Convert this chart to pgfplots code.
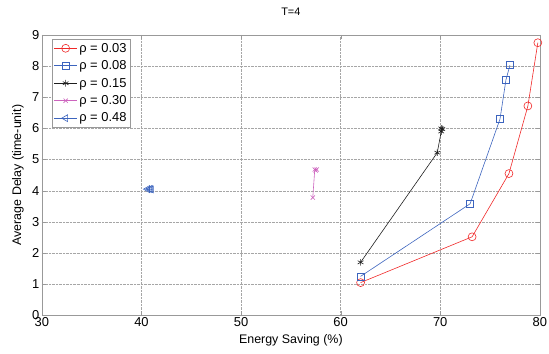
\documentclass[border=0pt]{standalone}
\usepackage{pgfplots}
\pgfplotsset{compat=1.18}
\usepackage{fontspec}
\setmainfont{Liberation Sans}
\definecolor{cred}{RGB}{240,40,40}
\definecolor{cblue}{RGB}{60,100,190}
\definecolor{cmag}{RGB}{205,100,190}
\definecolor{cblk}{RGB}{30,30,30}
\begin{document}
\begin{tikzpicture}
\begin{axis}[
  scale only axis,
  width=499bp, height=281bp,
  xmin=30, xmax=80, ymin=0, ymax=9,
  xtick={30,40,...,80}, ytick={0,1,...,9},
  /pgf/number format/assume math mode=true,
  tick label style={font=\fontsize{13}{14}\selectfont},
  xticklabel style={inner sep=2pt},
  yticklabel style={inner sep=2.5pt},
  every axis x label/.style={at={(axis description cs:0.5,0)}, anchor=center, yshift=-25bp, inner sep=0pt, font=\fontsize{12.5}{13}\selectfont},
  every axis y label/.style={at={(axis description cs:0,0.5)}, rotate=90, anchor=center, yshift=24bp, inner sep=0pt, font=\fontsize{12.5}{13}\selectfont},
  every axis title/.style={at={(axis description cs:0.5,1)}, anchor=center, yshift=23bp, inner sep=0pt, font=\fontsize{11}{12}\selectfont},
  title={T=4},
  xlabel={Energy Saving (\%)},
  ylabel={Average Delay (time-unit)},
  grid=major,
  major grid style={densely dotted, gray!70},
  axis line style={gray!80},
  tick style={gray!80},
  tick align=inside,
  every axis plot/.append style={line width=0.6pt},
  legend style={font=\fontsize{13}{14}\selectfont, draw=gray!80, inner xsep=2pt, inner ysep=2pt, row sep=3pt, at={(0.02,0.986)}, anchor=north west},
  legend cell align=left,
  legend image code/.code={\draw[mark repeat=2,mark phase=2] plot coordinates {(0cm,0cm) (0.4cm,0cm) (0.8cm,0cm)};},
  after end axis/.code={\path (axis description cs:0,0) ++(-42bp,-38bp) rectangle ++(549bp,354bp);},
]
\addplot[cred, mark=o, mark size=4pt] coordinates {(62,1.05) (73.2,2.52) (76.9,4.55) (78.8,6.72) (79.8,8.75)};
\addlegendentry{ρ = 0.03}
\addplot[cblue, mark=square, mark size=3.5pt] coordinates {(62,1.25) (73.0,3.58) (76.0,6.3) (76.6,7.56) (77.0,8.03)};
\addlegendentry{ρ = 0.08}
\addplot[cblk, mark=asterisk, mark size=3.3pt] coordinates {(62,1.7) (69.7,5.22) (70.1,5.9) (70.2,5.98) (70.1,6.0)};
\addlegendentry{ρ = 0.15}
\addplot[cmag, mark=x, mark size=3pt] coordinates {(57.2,3.78) (57.4,4.68) (57.6,4.68) (57.5,4.65)};
\addlegendentry{ρ = 0.30}
\addplot[cblue, mark=triangle, mark options={rotate=90}, mark size=4pt] coordinates {(40.6,4.05) (40.8,4.05) (41.0,4.04) (40.9,4.06)};
\addlegendentry{ρ = 0.48}
\end{axis}
\end{tikzpicture}
\end{document}
